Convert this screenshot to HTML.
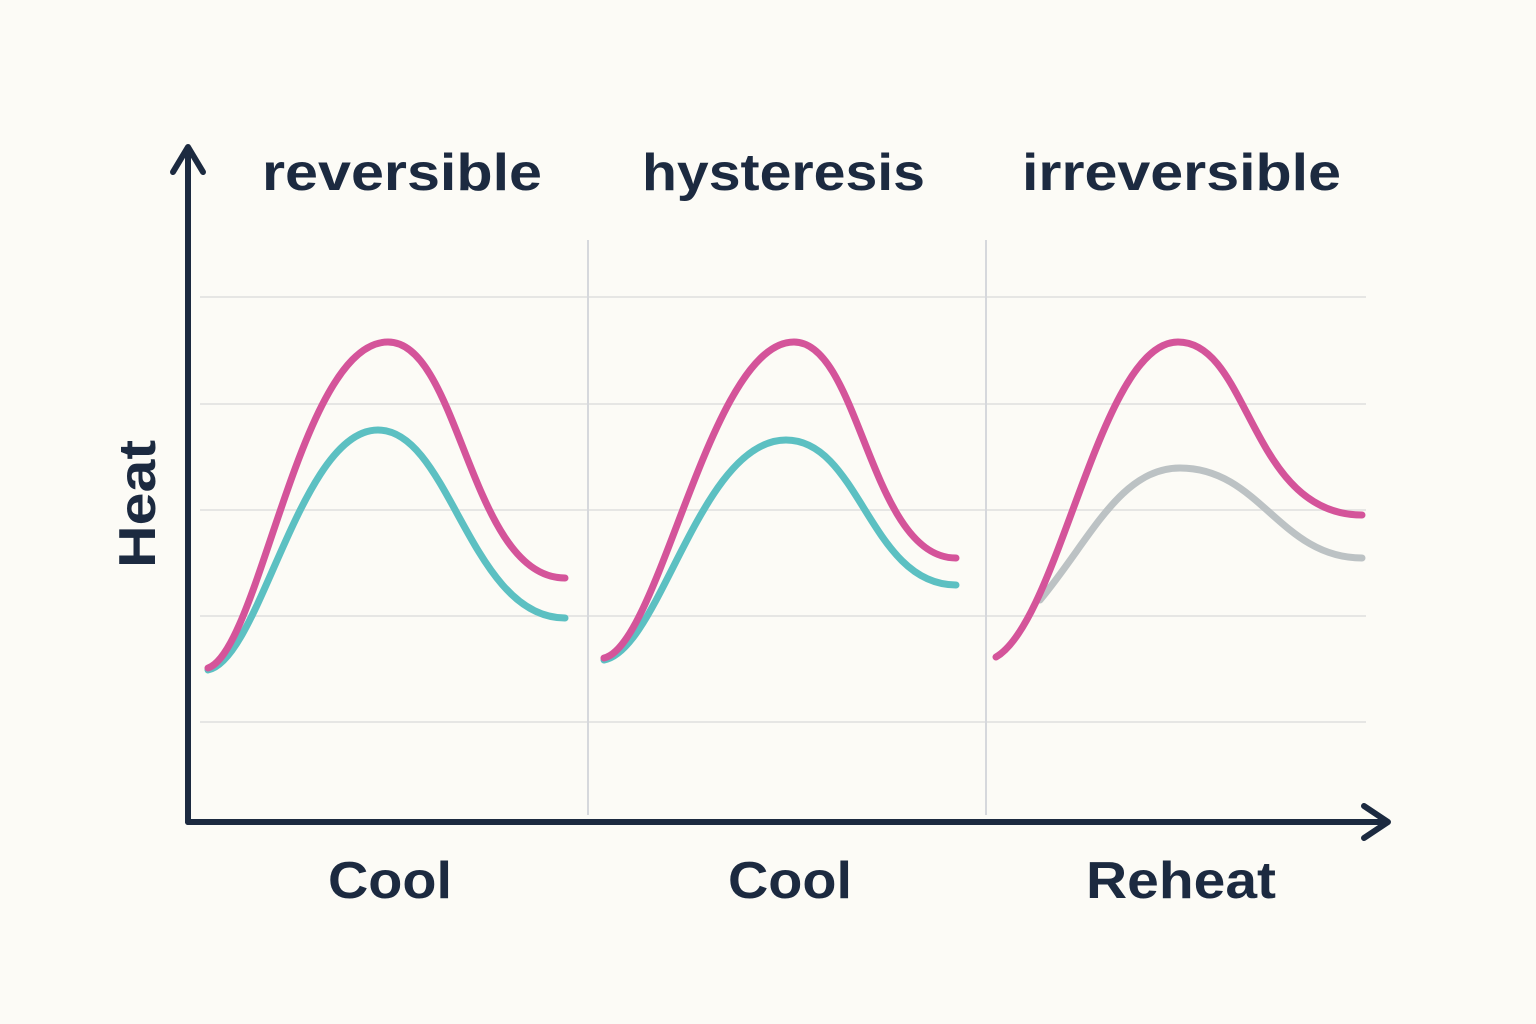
<!DOCTYPE html>
<html><head><meta charset="utf-8"><style>
html,body{margin:0;padding:0;background:#fcfbf6;}
svg{display:block}
text{font-family:"Liberation Sans",sans-serif;fill:#1c2a40;font-weight:bold;}
</style></head><body>
<svg width="1536" height="1024" viewBox="0 0 1536 1024">
<rect width="1536" height="1024" fill="#fcfbf6"/>
<g stroke="#e6e6e4" stroke-width="2">
<line x1="200" y1="297" x2="1366" y2="297"/>
<line x1="200" y1="404" x2="1366" y2="404"/>
<line x1="200" y1="510" x2="1366" y2="510"/>
<line x1="200" y1="616" x2="1366" y2="616"/>
<line x1="200" y1="722" x2="1366" y2="722"/>
</g>
<g stroke="#d6d8dc" stroke-width="2">
<line x1="588" y1="240" x2="588" y2="815"/>
<line x1="986" y1="240" x2="986" y2="815"/>
</g>
<g fill="none" stroke-width="7" stroke-linecap="round">
<path d="M208,670 C260,660 300,430 378,430 C450,430 470,618 565,618" stroke="#5cc0c2"/>
<path d="M208,668 C260,650 300,342 388,342 C460,342 470,578 565,578" stroke="#d4549a"/>
<path d="M604,660 C660,650 700,440 786,440 C860,440 870,585 956,585" stroke="#5cc0c2"/>
<path d="M604,658 C660,645 710,342 794,342 C860,342 870,558 956,558" stroke="#d4549a"/>
<path d="M1040,600 C1090,540 1120,468 1180,468 C1260,468 1280,558 1362,558" stroke="#bcc2c4"/>
<path d="M996,657 C1060,620 1100,342 1178,342 C1250,342 1250,515 1362,515" stroke="#d4549a"/>
</g>
<g stroke="#1c2a40" stroke-width="6" fill="none" stroke-linecap="round" stroke-linejoin="round">
<line x1="188" y1="150" x2="188" y2="822"/>
<line x1="188" y1="822" x2="1385" y2="822"/>
<polyline points="173,172 188,147 203,172"/>
<polyline points="1364,806 1388,822 1364,838"/>
</g>
<g font-size="52" lengthAdjust="spacingAndGlyphs">
<text x="262" y="190" textLength="280" lengthAdjust="spacingAndGlyphs">reversible</text>
<text x="642" y="190" textLength="283" lengthAdjust="spacingAndGlyphs">hysteresis</text>
<text x="1022" y="190" textLength="319" lengthAdjust="spacingAndGlyphs">irreversible</text>
<text x="328" y="898" textLength="124" lengthAdjust="spacingAndGlyphs">Cool</text>
<text x="728" y="898" textLength="124" lengthAdjust="spacingAndGlyphs">Cool</text>
<text x="1086" y="898" textLength="190" lengthAdjust="spacingAndGlyphs">Reheat</text>
<text transform="translate(155,568) rotate(-90)" textLength="128" lengthAdjust="spacingAndGlyphs">Heat</text>
</g>
</svg>
</body></html>
